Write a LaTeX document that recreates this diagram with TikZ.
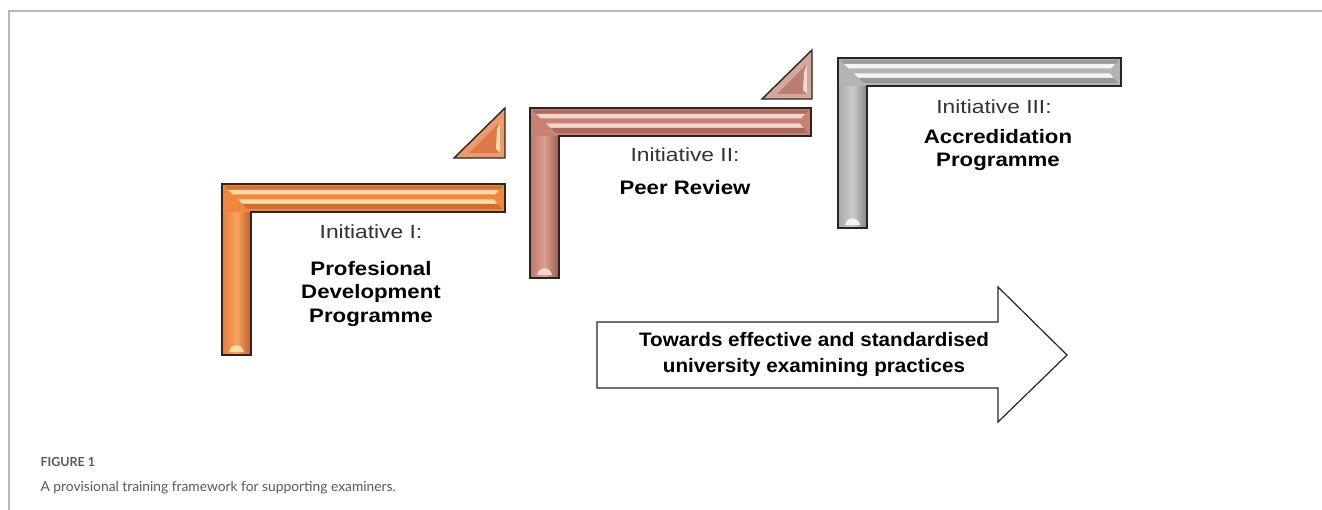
\documentclass[tikz,border=0pt]{standalone}
\usepackage{fontspec}
\setmainfont{Liberation Sans}
\newfontfamily\initfont[FakeStretch=1.2]{Liberation Sans}
\newfontfamily\titlefont[FakeStretch=1.14]{Liberation Sans}
\newfontfamily\arrowfont[FakeStretch=1.06]{Liberation Sans}
\newfontfamily\capfont{Lato}
\definecolor{orBase}{HTML}{F2873C}
\definecolor{orLight}{HTML}{FFDCA8}
\definecolor{orDark}{HTML}{C9602A}
\definecolor{orTri}{HTML}{EE9A6C}
\definecolor{pkBase}{HTML}{C98272}
\definecolor{pkLight}{HTML}{F4D6CC}
\definecolor{pkDark}{HTML}{A45E50}
\definecolor{pkTri}{HTML}{D5A79C}
\definecolor{grBase}{HTML}{B4B4B4}
\definecolor{grLight}{HTML}{F4F4F4}
\definecolor{grDark}{HTML}{8A8A8A}
\definecolor{frameGray}{HTML}{B8B8B8}
\definecolor{txtGray}{HTML}{333333}
\definecolor{capGray}{HTML}{5A5A5A}
\tikzset{
  outline/.style={draw=black!85, line width=1.4pt, line join=miter},
  initlabel/.style={font=\initfont\fontsize{19}{22}\selectfont, text=txtGray, align=center},
  titlelabel/.style={font=\titlefont\fontsize{19.5}{23.5}\selectfont\bfseries, text=black, align=center},
  arrowlabel/.style={font=\arrowfont\fontsize{19.5}{26}\selectfont\bfseries, text=black, align=center},
}
% #1 x0, #2 y0, #3 x1, #4 ybottom, #5 base, #6 light, #7 dark
\newcommand\Lshape[7]{%
  \fill[#5] (#1,#2) -- (#3,#2) -- (#3,#2+28) -- (#1+29,#2+28) -- (#1+29,#4) -- (#1,#4) -- cycle;
  \shade[left color=#5!80!#7, right color=#7, middle color=#6!35!#5]
     (#1+1,#2+28) -- (#1+28,#2+28) -- (#1+28,#4-1) -- (#1+1,#4-1) -- cycle;
  \fill[#5] (#1,#2) -- (#1+29,#2+28) -- (#1+1,#2+28) -- cycle;
  \fill[#7!60!#5] (#1+2,#2+2) -- (#3-2,#2+2) -- (#3-6,#2+6) -- (#1+6.2,#2+6) -- cycle;
  \fill[#6] (#1+6.2,#2+6) -- (#3-6,#2+6) -- (#3-10,#2+10.5) -- (#1+10.9,#2+10.5) -- cycle;
  \fill[#6] (#1+16.1,#2+15.5) -- (#3-11,#2+15.5) -- (#3-7.5,#2+20) -- (#1+20.7,#2+20) -- cycle;
  \fill[#7!70!#5] (#1+20.7,#2+20) -- (#3-7.5,#2+20) -- (#3-3,#2+25) -- (#1+25.9,#2+25) -- cycle;
  \fill[#6] (#1+7,#4-3) .. controls (#1+9,#4-12) and (#1+20,#4-12) .. (#1+22,#4-3) -- cycle;
  \draw[outline] (#1,#2) -- (#3,#2) -- (#3,#2+28) -- (#1+29,#2+28) -- (#1+29,#4) -- (#1,#4) -- cycle;
}
% #1 x left, #2 x right, #3 y top, #4 y bottom, #5 fill, #6 light, #7 dark
\newcommand\Tri[7]{%
  \fill[#5] (#2,#3) -- (#2,#4) -- (#1,#4) -- cycle;
  \fill[#7!55!#5] (#2-5,#3+14) -- (#2-5,#4-5) -- (#1+15,#4-5) -- cycle;
  \fill[#6] (#2-5,#3+14) -- (#2-5,#4-5) -- (#2-9,#4-9) -- (#2-8,#3+22) -- cycle;
  \draw[outline] (#2,#3) -- (#2,#4) -- (#1,#4) -- cycle;
}
\begin{document}
\begin{tikzpicture}[x=1pt,y=-1pt]
\useasboundingbox (0,0) rectangle (1322,510);
\fill[white] (0,0) rectangle (1322,510);
% frame
\draw[frameGray, line width=1.5pt] (9,510) -- (9,11) -- (1322,11);

% L shapes and triangles
\Lshape{222}{184}{505}{355}{orBase}{orLight}{orDark}
\Tri{454}{505}{108}{158}{orTri}{orLight}{orDark}
\Lshape{530}{108}{811}{278}{pkBase}{pkLight}{pkDark}
\Tri{762}{812}{50}{99}{pkTri}{pkLight}{pkDark}
\Lshape{838}{58}{1121}{228}{grBase}{grLight}{grDark}

% labels
\node[initlabel] (i1) at (371,232) {Initiative I:};
\node[titlelabel] (t1) at (371,294) {Profesional\\Development\\Programme};
\node[initlabel] (i2) at (685,155) {Initiative II:};
\node[titlelabel] (t2) at (685,188) {Peer Review};
\node[initlabel] (i3) at (994,107) {Initiative III:};
\node[titlelabel] (t3) at (998,150) {Accredidation\\Programme};

% big arrow
\draw[outline, line width=1.2pt, fill=white] (597,322) -- (998,322) -- (998,287) -- (1067,355) -- (998,422) -- (998,388) -- (597,388) -- cycle;
\node[arrowlabel] (ar) at (814,355) {Towards effective and standardised\\university examining practices};

% caption
\node[anchor=west, font=\capfont\fontsize{12.5}{13}\selectfont\bfseries, text=capGray] (fig) at (37,462) {FIGURE 1};
\node[anchor=west, font=\capfont\fontsize{13.8}{17}\selectfont, text=capGray] (cap) at (37,488) {A provisional training framework for supporting examiners.};
\end{tikzpicture}
\end{document}
